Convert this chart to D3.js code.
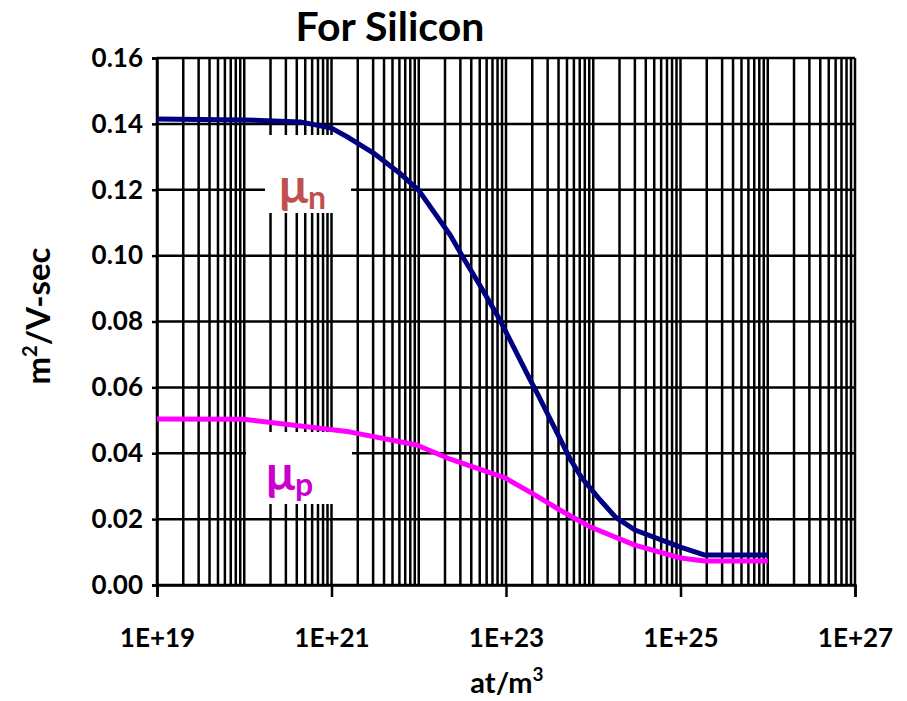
<!DOCTYPE html>
<html>
<head>
<meta charset="utf-8">
<script src="https://cdn.jsdelivr.net/npm/d3@7"></script>
<style>
  html, body { margin: 0; padding: 0; background: #fff; }
  svg { display: block; }
  text { font-family: Lato, "Open Sans", sans-serif; font-weight: bold; }
</style>
</head>
<body>
<svg id="chart" width="907" height="701"></svg>
<script>
// Electron mobility vs. doping concentration (at/m^3)
const nConc = [1e19, 1e20, 4.4e20, 1e21, 1.6e21, 3e21, 6e21, 1e22, 2.3e22, 3.2e22, 5e22,
               8.5e22, 1.9e23, 2.3e23, 5.5e23, 7.4e23, 1.2e24, 1.8e24, 3e24, 1e25, 1.9e25, 1e26];
const muN   = [0.1415, 0.1412, 0.1406, 0.1387, 0.1357, 0.1312, 0.1251, 0.1198, 0.1062, 0.0996, 0.0911,
               0.0805, 0.0622, 0.058, 0.038, 0.0325, 0.0258, 0.0206, 0.0167, 0.0115, 0.0091, 0.0091];

// Hole mobility vs. doping concentration
const pConc = [1e19, 1e20, 1.6e21, 9.5e21, 2.3e22, 9.8e22, 2e23, 4e23, 9.3e23, 3e24, 1e25, 1.9e25, 1e26];
const muP   = [0.0504, 0.0503, 0.0465, 0.0425, 0.0382, 0.0325, 0.0278, 0.023, 0.0176, 0.0121, 0.0082, 0.0073, 0.0073];

// Axis ticks
const xTicks = [1e19, 1e21, 1e23, 1e25, 1e27];
const yTicks = [0, 0.02, 0.04, 0.06, 0.08, 0.10, 0.12, 0.14, 0.16];

const svg = d3.select("#chart");
const m = { left: 157, right: 855, top: 58, bottom: 585 };

const x = d3.scaleLog().domain([1e19, 1e27]).range([m.left, m.right]);
const y = d3.scaleLinear().domain([0, 0.16]).range([m.bottom, m.top]);

// log grid: 1..9 x 10^d for every decade, plus the closing decade line
const gridX = [];
for (let d = 19; d < 27; d++) for (let k = 1; k <= 9; k++) gridX.push(k * Math.pow(10, d));
gridX.push(1e27);

const grid = svg.append("g").attr("stroke", "#000").attr("stroke-width", 2.5);
grid.selectAll("line.v").data(gridX).join("line")
  .attr("class", "v")
  .attr("x1", d => x(d)).attr("x2", d => x(d))
  .attr("y1", y(0.16)).attr("y2", y(0));
grid.selectAll("line.h").data(yTicks).join("line")
  .attr("class", "h")
  .attr("x1", x(1e19)).attr("x2", x(1e27))
  .attr("y1", d => y(d)).attr("y2", d => y(d));

// white label panels sit over the grid
svg.append("rect").attr("x", 265).attr("y", 135).attr("width", 86).attr("height", 78).attr("fill", "#fff");
svg.append("rect").attr("x", 246).attr("y", 432).attr("width", 106).attr("height", 72).attr("fill", "#fff");

// axes
const xAxis = d3.axisBottom(x).tickValues(xTicks).tickSize(12).tickPadding(32)
  .tickFormat(d => "1E+" + Math.round(Math.log10(d)));
const gx = svg.append("g").attr("transform", `translate(0,${m.bottom})`).call(xAxis);
gx.select(".domain").attr("stroke-width", 2.5);
gx.selectAll(".tick line").attr("stroke-width", 2.5);
gx.selectAll(".tick text").attr("font-size", 26).attr("fill", "#000")
  .style("font-family", "Lato").style("font-weight", "bold");

const yAxis = d3.axisLeft(y).tickValues(yTicks).tickSize(5).tickPadding(9)
  .tickFormat(d3.format(".2f"));
const gy = svg.append("g").attr("transform", `translate(${m.left},0)`).call(yAxis);
gy.select(".domain").attr("stroke-width", 2.5);
gy.selectAll(".tick line").attr("stroke-width", 2.5);
gy.selectAll(".tick text").attr("font-size", 26).attr("fill", "#000")
  .style("font-family", "Lato").style("font-weight", "bold");

// curves
const line = d3.line().x(d => x(d[0])).y(d => y(d[1]));
svg.append("path").datum(d3.zip(nConc, muN)).attr("d", line)
  .attr("fill", "none").attr("stroke", "#000080").attr("stroke-width", 5).attr("stroke-linejoin", "round");
svg.append("path").datum(d3.zip(pConc, muP)).attr("d", line)
  .attr("fill", "none").attr("stroke", "#FF00FF").attr("stroke-width", 5).attr("stroke-linejoin", "round");

// curve labels
const ln = svg.append("text").attr("x", 279).attr("y", 203).attr("fill", "#C0504D").attr("font-size", 48);
ln.append("tspan").text("μ");
ln.append("tspan").attr("font-size", 32).attr("dy", 6).text("n");
const lp = svg.append("text").attr("x", 266).attr("y", 490).attr("fill", "#CC00CC").attr("font-size", 48);
lp.append("tspan").text("μ");
lp.append("tspan").attr("font-size", 32).attr("dy", 6).text("p");

// titles
svg.append("text").attr("x", 390).attr("y", 41).attr("text-anchor", "middle")
  .attr("font-size", 41).text("For Silicon");

const xt = svg.append("text").attr("x", 507).attr("y", 693).attr("text-anchor", "middle").attr("font-size", 29);
xt.append("tspan").text("at/m");
xt.append("tspan").attr("font-size", 19).attr("dy", -12).text("3");

const yt = svg.append("text").attr("transform", "translate(50,316) rotate(-90)")
  .attr("text-anchor", "middle").attr("font-size", 33);
yt.append("tspan").text("m");
yt.append("tspan").attr("font-size", 20).attr("dy", -13).text("2");
yt.append("tspan").attr("dy", 13).text("/V-sec");
</script>
</body>
</html>
